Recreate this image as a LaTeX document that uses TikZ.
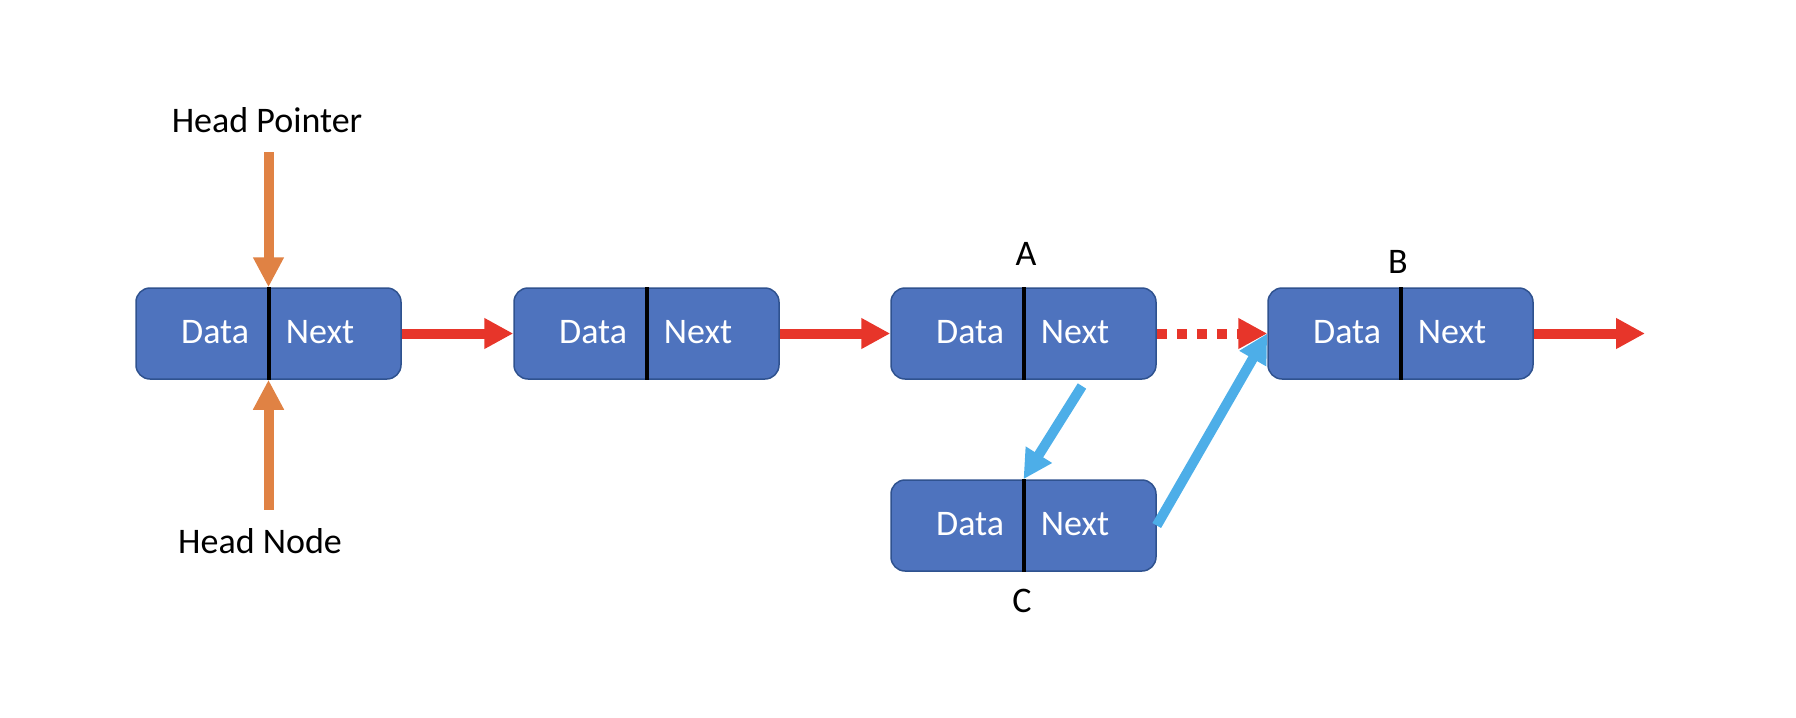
\documentclass[tikz,border=0pt]{standalone}
\usepackage{fontspec}
\setmainfont{Carlito}
\usepackage{tikz}
\usetikzlibrary{arrows.meta, calc}
\definecolor{listBlue}{HTML}{4E73BE}
\definecolor{listEdge}{HTML}{2F528F}
\definecolor{listRed}{HTML}{E7352A}
\definecolor{listOrange}{HTML}{E08244}
\definecolor{listSky}{HTML}{4DAEE8}
\tikzset{
	cellbox/.style={draw=listEdge, line width=0.75pt, fill=listBlue, rounded corners=7pt,
		minimum width=132.5pt, minimum height=45.5pt, inner sep=0pt},
	divider/.style={line width=2pt, black},
	celltext/.style={text=white, font=\fontsize{18pt}{21pt}\selectfont, inner sep=0pt},
	tagtext/.style={font=\fontsize{18pt}{21pt}\selectfont, inner sep=0pt, anchor=base},
	nextarrow/.style={draw=listRed, line width=5pt, -{Triangle[length=14.5pt, width=14.5pt]}},
	headarrow/.style={draw=listOrange, line width=5pt, -{Triangle[length=15pt, width=14.5pt]}},
	insertarrow/.style={draw=listSky, line width=5pt, -{Triangle[length=14.5pt, width=14.5pt]}},
	% one list element: a box split into Data and Next
	pics/listnode/.style={
		code={
			\node[cellbox] (-box) at (0,0) {};
			\draw[divider] (-box.north) -- (-box.south);
			\node[celltext, anchor=east] (-data) at (-19,-1) {Data};
			\node[celltext, anchor=west] (-next) at (17,-1) {Next};
		}
	}
}

\begin{document}
\begin{tikzpicture}[x=0.5pt, y=-0.5pt]
	\useasboundingbox (0,0) rectangle (1796,718);
	\pic (n1) at (268.5, 333.5) {listnode};
	\pic (n2) at (646.5, 333.5) {listnode};
	\pic (nA) at (1023.5, 333.5) {listnode};
	\pic (nB) at (1400.5, 333.5) {listnode};
	\pic (nC) at (1023.5, 525.5) {listnode};
	% labels
	\node[tagtext] (hp) at (267, 132.5) {Head Pointer};
	\node[tagtext] (hn) at (260, 553) {Head Node};
	\node[tagtext] (tA) at (1026, 265) {A};
	\node[tagtext] (tB) at (1398, 273) {B};
	\node[tagtext] (tC) at (1022, 612.5) {C};
	\coordinate (tail) at (1645, 333.5);
	\coordinate (aOut) at (1082, 386);
	% head pointer and head node
	\draw[headarrow] ($(n1-box.north |- hp.south)+(0,19)$) -- (n1-box.north);
	\draw[headarrow] ($(n1-box.south |- hn.north)+(0,-18)$) -- (n1-box.south);
	% next links
	\draw[nextarrow] (n1-box.east) -- (n2-box.west);
	\draw[nextarrow] (n2-box.east) -- (nA-box.west);
	\draw[nextarrow, dash pattern=on 5pt off 5pt] (nA-box.east) -- (nB-box.west);
	\draw[nextarrow] (nB-box.east) -- (tail);
	% inserting C between A and B
	\draw[insertarrow] (aOut) -- (nC-box.north);
	\draw[insertarrow] (nC-box.east) -- (nB-box.west);
\end{tikzpicture}
\end{document}
